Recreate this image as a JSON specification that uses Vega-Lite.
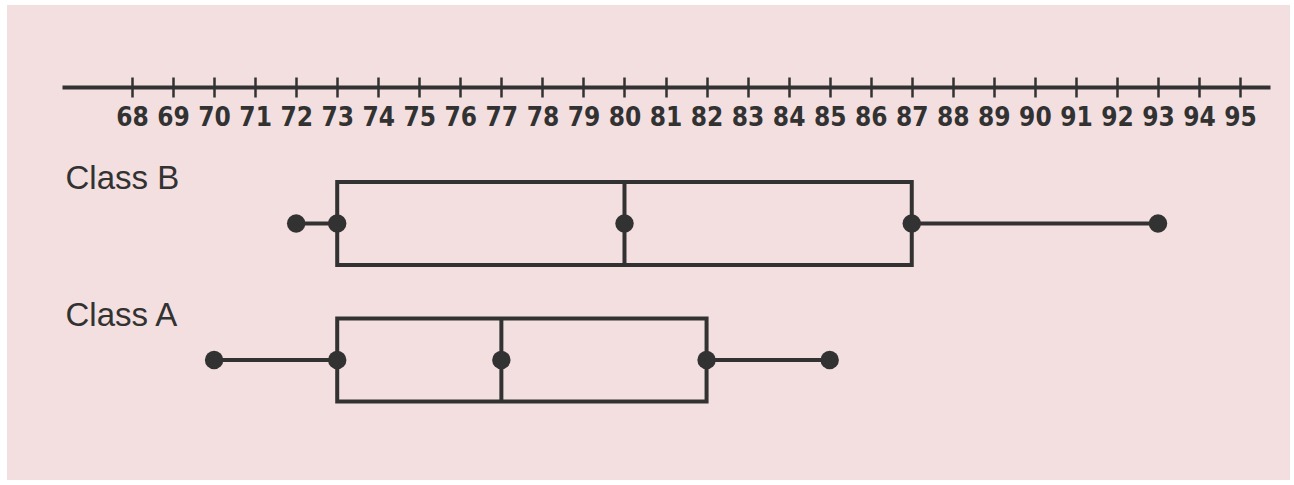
{
  "$schema": "https://vega.github.io/schema/vega-lite/v6.json",
  "width": 1294,
  "height": 485,
  "autosize": {"type": "fit", "contains": "padding"},
  "padding": {"top": 5, "left": 7, "right": 4, "bottom": 5},
  "background": "#ffffff",
  "config": {
    "view": {"fill": "#f3dfe0", "stroke": null},
    "axis": {"grid": false, "title": null}
  },
  "data": {
    "values": [
      {"class": "Class B", "min": 72, "q1": 73, "median": 80, "q3": 87, "max": 93},
      {"class": "Class A", "min": 70, "q1": 73, "median": 77, "q3": 82, "max": 85}
    ]
  },
  "resolve": {"axis": {"x": "independent"}},
  "layer": [
    {
      "mark": {"type": "rule", "stroke": "#323232", "strokeWidth": 4},
      "encoding": {
        "x": {
          "field": "min", "type": "quantitative",
          "scale": {"domain": [66.294, 95.729], "range": [55, 1263], "nice": false, "zero": false},
          "axis": {
            "orient": "bottom", "offset": -393,
            "values": [68,69,70,71,72,73,74,75,76,77,78,79,80,81,82,83,84,85,86,87,88,89,90,91,92,93,94,95],
            "domain": true, "domainColor": "#323232", "domainWidth": 4,
            "ticks": true, "tickColor": "#323232", "tickWidth": 2.5, "tickSize": 10,
            "labelFont": "DejaVu Sans Condensed",
            "labelFontWeight": "bold", "labelFontSize": 26, "labelColor": "#323232",
            "labelPadding": 7, "labelFlush": false, "labelOverlap": false
          }
        },
        "x2": {"field": "q1"},
        "y": {
          "field": "class", "type": "nominal",
          "scale": {"domain": ["axis", "Class B", "Class A"], "paddingInner": 0.392, "paddingOuter": 0.436, "align": 0.34},
          "axis": {
            "values": ["Class B", "Class A"], "orient": "left",
            "domain": false, "ticks": false, "tickSize": 0,
            "labelAlign": "left", "labelBaseline": "middle", "labelPadding": -58, "labelOffset": -44,
            "labelFont": "Liberation Sans", "labelFontSize": 33, "labelColor": "#323232"
          }
        }
      }
    },
    {
      "mark": {"type": "rule", "stroke": "#323232", "strokeWidth": 4},
      "encoding": {
        "x": {
          "field": "q3", "type": "quantitative",
          "axis": {
            "orient": "top", "offset": -82,
            "values": [68,69,70,71,72,73,74,75,76,77,78,79,80,81,82,83,84,85,86,87,88,89,90,91,92,93,94,95],
            "domain": false, "labels": false,
            "ticks": true, "tickColor": "#323232", "tickWidth": 2.5, "tickSize": 10
          }
        },
        "x2": {"field": "max"},
        "y": {"field": "class", "type": "nominal"}
      }
    },
    {
      "mark": {"type": "rect", "fill": "transparent", "stroke": "#323232", "strokeWidth": 4},
      "encoding": {
        "x": {"field": "q1", "type": "quantitative", "axis": null},
        "x2": {"field": "q3"},
        "y": {"field": "class", "type": "nominal"}
      }
    },
    {
      "mark": {"type": "tick", "orient": "vertical", "color": "#323232", "size": 83, "thickness": 4, "opacity": 1},
      "encoding": {
        "x": {"field": "median", "type": "quantitative", "axis": null},
        "y": {"field": "class", "type": "nominal"}
      }
    },
    {
      "transform": [{"fold": ["min", "q1", "median", "q3", "max"], "as": ["stat", "value"]}],
      "mark": {"type": "circle", "color": "#323232", "size": 340, "opacity": 1},
      "encoding": {
        "x": {"field": "value", "type": "quantitative", "axis": null},
        "y": {"field": "class", "type": "nominal"}
      }
    }
  ]
}
